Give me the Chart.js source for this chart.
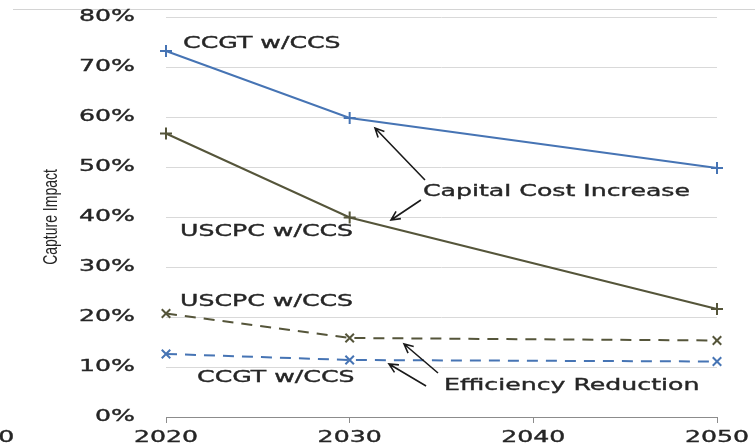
<!DOCTYPE html>
<html>
<head>
<meta charset="utf-8">
<script src="https://cdn.jsdelivr.net/npm/chart.js@4/dist/chart.umd.min.js"></script>
<style>
  html, body { margin: 0; padding: 0; background: #fff; }
</style>
</head>
<body>
<canvas id="impactChart" width="755" height="446"></canvas>
<script>
// values (capture impact, %)
const years = [2020, 2030, 2050];
const ccgtCapital = [73.2, 59.8, 49.8];
const uscpcCapital = [56.7, 39.9, 21.6];
const uscpcEfficiency = [20.7, 15.8, 15.3];
const ccgtEfficiency = [12.6, 11.4, 11.1];

const xTickLabels = [2010, 2020, 2030, 2040, 2050];
const yTickValues = [0, 10, 20, 30, 40, 50, 60, 70, 80];

const BLUE = '#4674b4';
const OLIVE = '#55553a';
const TEXT = '#262626';

// annotation labels, in data units: [text, year, percent]
const labels = [
  ['CCGT w/CCS', 2020.93, 74.6],
  ['USCPC w/CCS', 2020.76, 37.0],
  ['Capital Cost Increase', 2033.99, 45.0],
  ['USCPC w/CCS', 2020.76, 23.0],
  ['CCGT w/CCS', 2021.69, 7.8],
  ['Efficiency Reduction', 2035.14, 6.2]
];
// arrows: [fromYear, fromPct, toYear, toPct]
const arrows = [
  [2034.10, 47.4, 2031.38, 57.8],
  [2033.88, 43.4, 2032.25, 39.4],
  [2034.81, 8.8, 2032.96, 14.6],
  [2034.16, 6.2, 2032.14, 10.6]
];

function points(vals) {
  return years.map((y, i) => ({ x: y, y: vals[i] }));
}

// the reference text is stretched sideways, so draw it with a horizontal scale
const SX = 1.68;
function wideText(ctx, text, x, y, align) {
  ctx.save();
  ctx.translate(x, y);
  ctx.scale(SX, 1);
  ctx.textAlign = align;
  ctx.textBaseline = 'middle';
  ctx.fillText(text, 0, 0);
  ctx.lineWidth = 0.35;
  ctx.strokeText(text, 0, 0);
  ctx.restore();
}

const overlay = {
  id: 'overlay',
  afterDraw(chart) {
    const ctx = chart.ctx;
    const xs = chart.scales.x, ys = chart.scales.y;
    const area = chart.chartArea;

    ctx.save();
    // faint frame line at the top
    ctx.strokeStyle = '#d4d4d4';
    ctx.lineWidth = 1;
    ctx.beginPath();
    ctx.moveTo(13, 9.5);
    ctx.lineTo(755, 9.5);
    ctx.stroke();

    ctx.fillStyle = TEXT;
    ctx.strokeStyle = TEXT;
    ctx.font = '15px "DejaVu Sans"';
    yTickValues.forEach(v => wideText(ctx, v + '%', area.left - 31, ys.getPixelForValue(v), 'right'));
    xTickLabels.forEach(v => wideText(ctx, String(v), xs.getPixelForValue(v), area.bottom + 21, 'center'));

    labels.forEach(([t, yr, p]) => wideText(ctx, t, xs.getPixelForValue(yr), ys.getPixelForValue(p), 'left'));

    // axis title
    ctx.save();
    ctx.translate(52, (area.top + area.bottom) / 2);
    ctx.rotate(-Math.PI / 2);
    ctx.scale(1, 1.4);
    ctx.font = '14px "Liberation Sans"';
    ctx.textAlign = 'center';
    ctx.textBaseline = 'middle';
    ctx.fillText('Capture Impact', 0, 0);
    ctx.restore();

    // arrows
    ctx.strokeStyle = '#1a1a1a';
    ctx.lineWidth = 1.6;
    arrows.forEach(([x0, y0, x1, y1]) => {
      const ax = xs.getPixelForValue(x0), ay = ys.getPixelForValue(y0);
      const bx = xs.getPixelForValue(x1), by = ys.getPixelForValue(y1);
      const ang = Math.atan2(by - ay, bx - ax);
      ctx.beginPath();
      ctx.moveTo(ax, ay);
      ctx.lineTo(bx, by);
      ctx.moveTo(bx - 10 * Math.cos(ang - 0.45), by - 10 * Math.sin(ang - 0.45));
      ctx.lineTo(bx, by);
      ctx.lineTo(bx - 10 * Math.cos(ang + 0.45), by - 10 * Math.sin(ang + 0.45));
      ctx.stroke();
    });
    ctx.restore();
  }
};

function series(label, vals, color, dashed) {
  return {
    label: label,
    data: points(vals),
    borderColor: color,
    backgroundColor: color,
    borderWidth: 2,
    borderDash: dashed ? [11, 8] : [],
    pointStyle: dashed ? 'crossRot' : 'cross',
    pointRadius: 6,
    pointBorderWidth: 2,
    pointBorderColor: color,
    clip: false,
    tension: 0
  };
}

new Chart(document.getElementById('impactChart'), {
  type: 'line',
  data: {
    datasets: [
      series('CCGT w/CCS capital', ccgtCapital, BLUE, false),
      series('USCPC w/CCS capital', uscpcCapital, OLIVE, false),
      series('USCPC w/CCS efficiency', uscpcEfficiency, OLIVE, true),
      series('CCGT w/CCS efficiency', ccgtEfficiency, BLUE, true)
    ]
  },
  options: {
    responsive: false,
    animation: false,
    layout: { padding: { left: 0, right: 38, top: 17, bottom: 0 } },
    plugins: {
      legend: { display: false },
      tooltip: { enabled: false }
    },
    scales: {
      x: {
        type: 'linear',
        min: 2020,
        max: 2050,
        ticks: { display: false, stepSize: 10 },
        grid: { drawOnChartArea: false, drawTicks: true, tickLength: 6, color: '#8c8c8c' },
        border: { display: true, color: '#8c8c8c', width: 1 },
        afterFit(scale) { scale.height = 29; }
      },
      y: {
        min: 0,
        max: 80,
        ticks: { display: false, stepSize: 10 },
        grid: {
          drawTicks: false,
          color: ctx => ctx.tick.value === 0 ? 'rgba(0,0,0,0)' : '#d9d9d9'
        },
        border: { display: false },
        afterFit(scale) { scale.width = 166; }
      }
    }
  },
  plugins: [overlay]
});
</script>
</body>
</html>
